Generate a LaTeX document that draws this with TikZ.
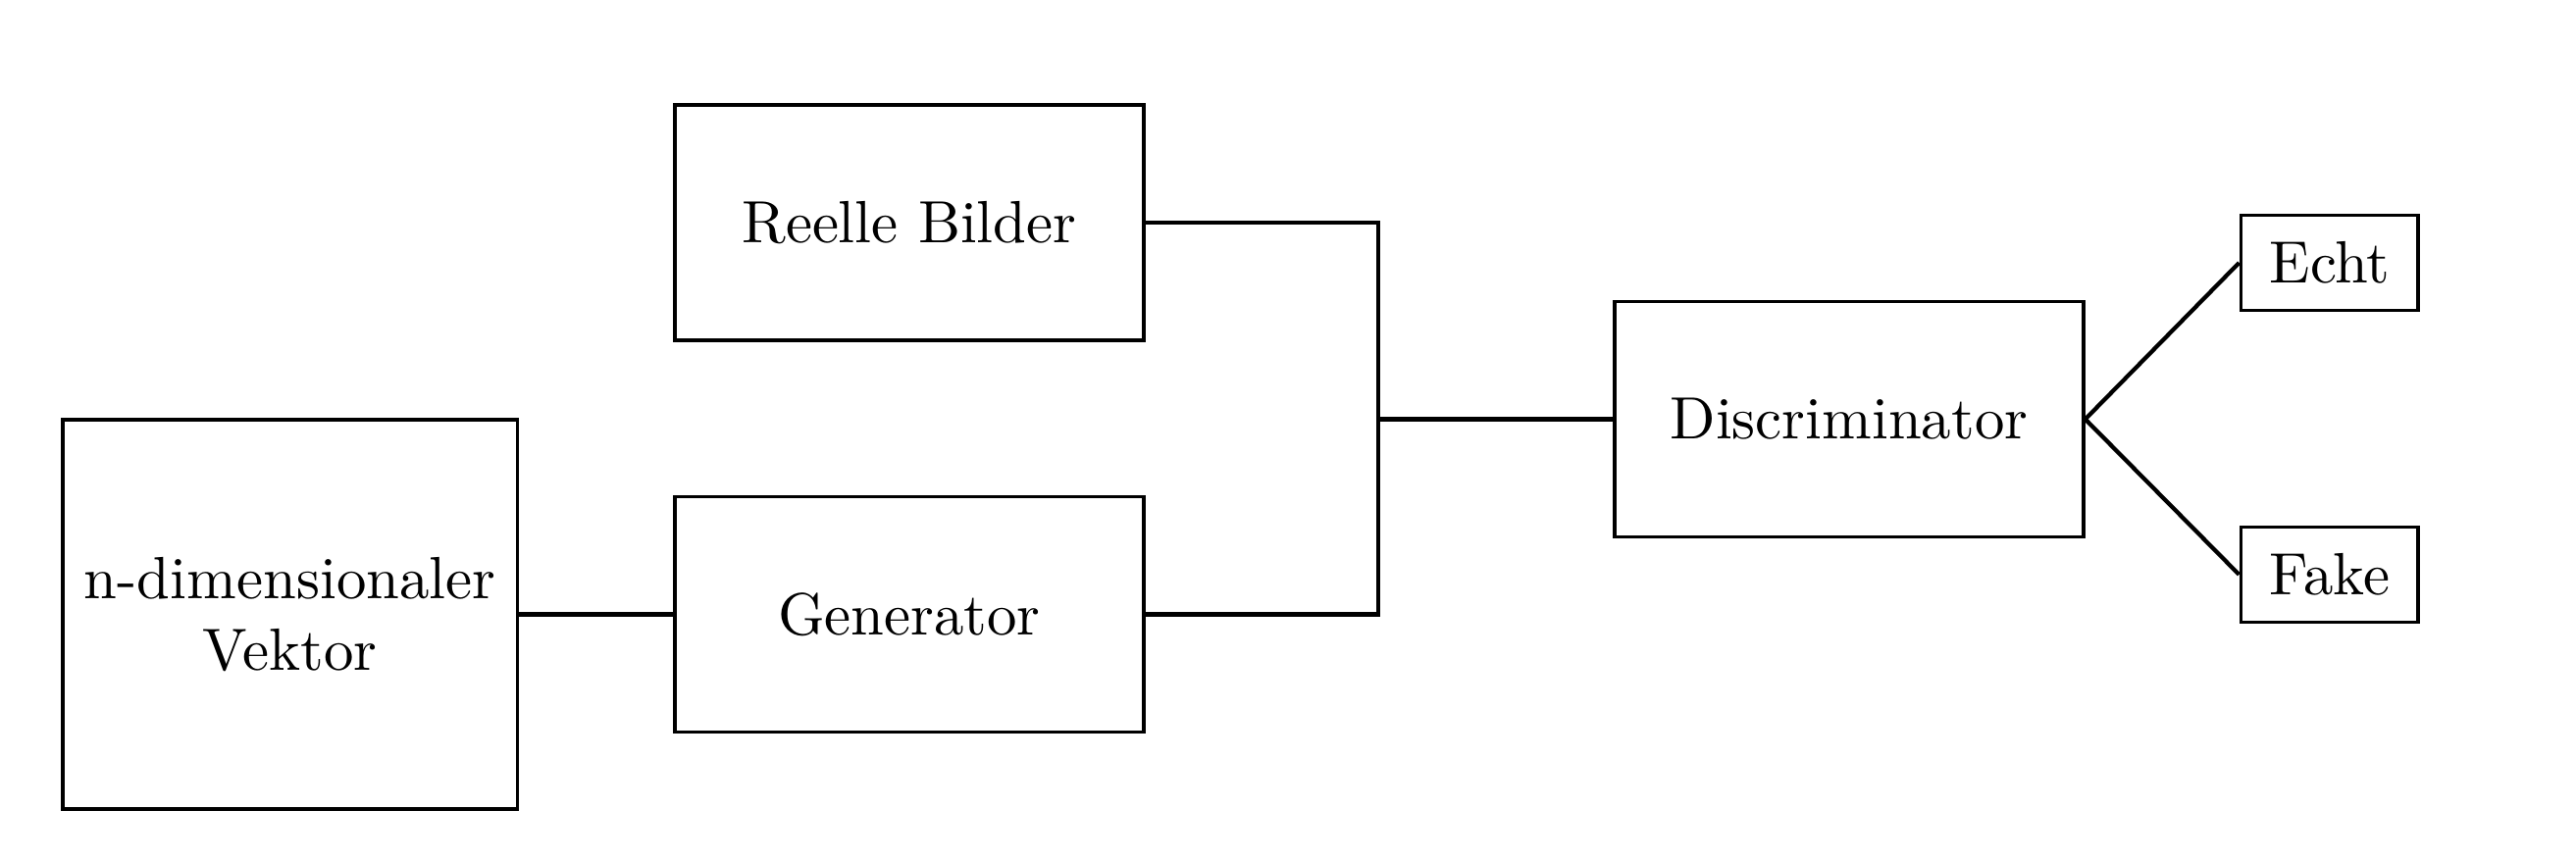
\documentclass[tikz,border=0pt]{standalone}
\usepackage{amsmath}
\usepackage{tikz}
\usetikzlibrary{positioning}

\begin{document}
\begin{tikzpicture}[every node/.style={rectangle, draw, semithick, align=center, inner sep=0pt}]
    \useasboundingbox (0,0) rectangle (15.18,5.075);
    \node[minimum width=2.68cm, minimum height=2.295cm] (V) at (1.709,1.454) {n-dimensionaler\\Vektor};
    \node[minimum width=2.763cm, minimum height=1.387cm] (R) at (5.358,3.763) {Reelle Bilder};
    \node[minimum width=2.763cm, minimum height=1.387cm] (G) at (5.358,1.454) {Generator};
    \node[minimum width=2.763cm, minimum height=1.387cm] (D) at (10.896,2.604) {Discriminator};
    \node[minimum width=1.046cm, minimum height=0.561cm] (E) at (13.728,3.526) {Echt};
    \node[minimum width=1.046cm, minimum height=0.561cm] (F) at (13.728,1.688) {Fake};
    \coordinate (j) at (8.121,2.604);
    
    \draw[line width=0.7pt] (V) -- (G);
    \foreach \from in {R, G}
        \draw[line width=0.7pt] (\from.east) -| (j);
    \draw[line width=0.7pt] (j) -- (D);
    
    % Ausgaenge
    \foreach \to in {E, F}
        \draw[line width=0.7pt] (D.east) -- (\to.west);
\end{tikzpicture}
\end{document}
